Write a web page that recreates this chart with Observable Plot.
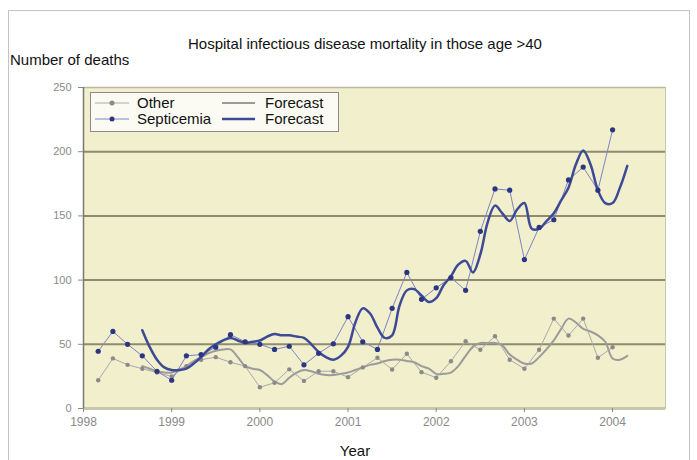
<!DOCTYPE html>
<html><head><meta charset="utf-8">
<script src="https://cdn.jsdelivr.net/npm/d3@7"></script>
<script src="https://cdn.jsdelivr.net/npm/@observablehq/plot@0.6"></script>
<style>body{margin:0;background:#fff;font-family:"Liberation Sans",Arial,sans-serif}</style>
</head><body><div id="chart"></div>
<script>
const title = "Hospital infectious disease mortality in those age >40";
const yLabel = "Number of deaths";
const xLabel = "Year";
const yTicks = [0, 50, 100, 150, 200, 250];
const xTicks = [1998, 1999, 2000, 2001, 2002, 2003, 2004];
const gridValues = [50, 100, 150, 200];

// bimonthly observations, first at 1998 + 2 months
const septicemia = [44.6, 60, 50, 41, 29, 22, 41, 42, 47.7, 57.5, 52, 50, 46, 48.5, 34, 43, 50.4, 71.5, 52, 46,
  78, 106, 85, 94, 102, 92, 138, 171, 170, 116, 141, 147, 178, 188, 170, 217];
const other = [22, 39, 34, 31, 28, 25, 33, 38, 40, 36, 33, 16.6, 20, 30.5, 21.5, 29, 29, 24.4, 32, 39.5,
  30.4, 42.6, 28.3, 24, 36.8, 52.4, 45.7, 56.3, 38, 31, 45.7, 70, 56.8, 70, 39.5, 47.7];

// monthly forecast, first at 1998 + 8 months
const septForecast = [61, 48, 38, 32, 30, 30, 31, 35, 40, 46, 50, 53, 55, 53, 51, 52, 53, 56, 58, 57, 57, 56, 55,
  50, 44, 40, 38, 41, 48, 67, 78, 74, 63, 55, 57, 80, 92, 93, 88, 83, 86, 96, 103, 112, 115, 106, 120, 145, 158,
  152, 146, 155, 160, 140, 140, 146, 152, 162, 172, 190, 201, 190, 170, 160, 160, 172, 189];
const otherForecast = [33, 31, 29, 28, 28, 30, 33, 37, 40, 43, 45, 46, 46, 40, 33, 31, 30, 26, 21, 19, 24, 28, 30,
  29, 27, 26, 26, 27, 28, 30, 32, 34, 35, 37, 38, 38, 37, 36, 33, 31, 27, 27, 28, 33, 41, 48, 51, 51, 51, 49, 42,
  38, 35, 35, 40, 46, 53, 62, 70, 67, 62, 60, 57, 52, 39, 38, 41];

const obsStartMonth = 2, obsStepMonths = 2, fcStartMonth = 8;
const obs = (vals, series) => vals.map((v, i) => ({year: 1998 + (obsStartMonth + i * obsStepMonths) / 12, value: v, series}));
const fc = (vals, series) => vals.map((v, i) => ({year: 1998 + (fcStartMonth + i) / 12, value: v, series}));
const sepObs = obs(septicemia, "Septicemia");
const othObs = obs(other, "Other");
const sepFc = fc(septForecast, "Forecast");
const othFc = fc(otherForecast, "Forecast");

const W = 697, H = 460;
const colors = {otherLine: "#a9a9a9", otherDot: "#8a8a8a", otherFc: "#9b9b9b",
  sepLine: "#7d84c4", sepDot: "#2b3582", sepFc: "#3d4a95"};

const svg = Plot.plot({
  width: W, height: H,
  marginLeft: 83, marginRight: 32, marginTop: 87, marginBottom: 52,
  style: {fontFamily: '"Liberation Sans", Arial, sans-serif', background: "transparent"},
  x: {domain: [1998, 2004.6]},
  y: {domain: [0, 250]},
  marks: [
    Plot.frame({fill: "#f1efcc", stroke: "#c9c7b0"}),
    Plot.ruleY(gridValues, {stroke: "#8e8c6c", strokeWidth: 2}),
    Plot.ruleY([250], {stroke: "#bbb9a0", strokeWidth: 1.5}),
    Plot.ruleY([0], {stroke: "#c9c7ab", strokeWidth: 3}),
    Plot.ruleX([1998], {stroke: "#7a7a72", strokeWidth: 1.5}),
    Plot.lineY(othFc, {x: "year", y: "value", stroke: colors.otherFc, strokeWidth: 2, curve: "catmull-rom"}),
    Plot.lineY(othObs, {x: "year", y: "value", stroke: colors.otherLine, strokeWidth: 1}),
    Plot.dot(othObs, {x: "year", y: "value", fill: colors.otherDot, r: 2.2}),
    Plot.lineY(sepObs, {x: "year", y: "value", stroke: colors.sepLine, strokeWidth: 1}),
    Plot.lineY(sepFc, {x: "year", y: "value", stroke: colors.sepFc, strokeWidth: 2.5, curve: "catmull-rom"}),
    Plot.dot(sepObs, {x: "year", y: "value", fill: colors.sepDot, r: 2.6}),
    Plot.axisY({ticks: yTicks, tickSize: 5, tickPadding: 7, fontSize: 11, color: "#8a8a8a", label: null}),
    Plot.axisX({ticks: xTicks, tickFormat: d => String(d), tickSize: 4, tickPadding: 5, fontSize: 12, color: "#8a8a8a", label: null})
  ]
});

const s = d3.select(svg);
// outer border
s.insert("rect", ":first-child").attr("x", 8.5).attr("y", 10.5).attr("width", 681).attr("height", 470)
  .attr("fill", "#fff").attr("stroke", "#c4c4c4");
s.append("text").attr("x", 365).attr("y", 49).attr("text-anchor", "middle")
  .attr("font-size", 15).attr("fill", "#111").text(title);
s.append("text").attr("x", 10).attr("y", 65).attr("text-anchor", "start").attr("font-size", 15).attr("fill", "#111").text(yLabel);
s.append("text").attr("x", 355).attr("y", 456).attr("text-anchor", "middle")
  .attr("font-size", 15).attr("fill", "#111").text(xLabel);

// legend
const lg = s.append("g").attr("text-anchor", "start");
lg.append("rect").attr("x", 90.5).attr("y", 92.5).attr("width", 248).attr("height", 39)
  .attr("fill", "#fbfbf4").attr("stroke", "#8a8a8a");
const rows = [
  {y: 103, name: "Other", line: colors.otherLine, dot: colors.otherDot, fc: colors.otherFc, fw: 2},
  {y: 119, name: "Septicemia", line: colors.sepLine, dot: colors.sepDot, fc: colors.sepFc, fw: 2.5}
];
rows.forEach(r => {
  lg.append("line").attr("x1", 95).attr("x2", 129).attr("y1", r.y).attr("y2", r.y).attr("stroke", r.line).attr("stroke-width", 1);
  lg.append("circle").attr("cx", 112).attr("cy", r.y).attr("r", 2.5).attr("fill", r.dot);
  lg.append("text").attr("x", 137).attr("y", r.y + 5).attr("text-anchor", "start").attr("font-size", 15).attr("fill", "#111").text(r.name);
  lg.append("line").attr("x1", 222).attr("x2", 255).attr("y1", r.y).attr("y2", r.y).attr("stroke", r.fc).attr("stroke-width", r.fw);
  lg.append("text").attr("x", 265).attr("y", r.y + 5).attr("text-anchor", "start").attr("font-size", 15).attr("fill", "#111").text("Forecast");
});

document.getElementById("chart").append(svg);
</script>
</body></html>
